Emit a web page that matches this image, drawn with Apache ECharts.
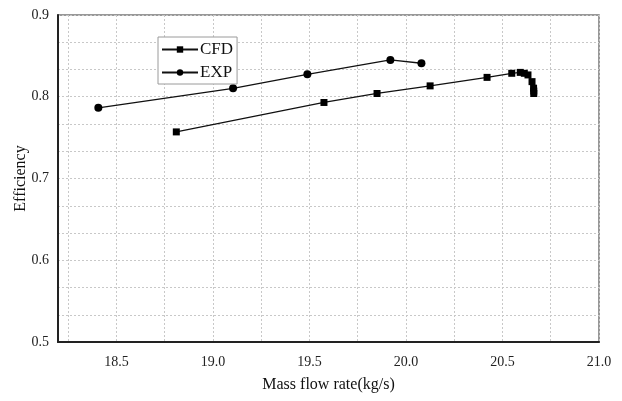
<!DOCTYPE html>
<html>
<head>
<meta charset="utf-8">
<script src="https://cdn.jsdelivr.net/npm/echarts@6/dist/echarts.min.js"></script>
<style>
  html, body { margin: 0; padding: 0; background: #fff; }
  #chart { width: 622px; height: 401px; }
</style>
</head>
<body>
<div id="chart"></div>
<script>
// Mass flow rate (kg/s) and efficiency for the simulated characteristic
const cfdFlow = [18.81, 19.575, 19.85, 20.125, 20.42, 20.548, 20.592, 20.613, 20.632, 20.653, 20.661, 20.662, 20.662];
const cfdEff  = [0.757, 0.793, 0.804, 0.8133, 0.8237, 0.8287, 0.8298, 0.8287, 0.8267, 0.8185, 0.8105, 0.807, 0.804];

// Measured characteristic
const expFlow = [18.406, 19.104, 19.489, 19.919, 20.08];
const expEff  = [0.7865, 0.8103, 0.8274, 0.845, 0.8410];

const seriesNames = ['CFD', 'EXP'];
const xTitle = 'Mass flow rate(kg/s)';
const yTitle = 'Efficiency';
const xLabelValues = [18.5, 19.0, 19.5, 20.0, 20.5, 21.0];
const xGridValues  = [18.25, 18.5, 18.75, 19.0, 19.25, 19.5, 19.75, 20.0, 20.25, 20.5, 20.75, 21.0];

const pairs = (xs, ys) => xs.map((x, i) => [x, ys[i]]);
const FONT = 'Liberation Serif';
const gridDash = { color: '#c8c8c8', type: [2, 2], width: 1 };

const chart = echarts.init(document.getElementById('chart'), null, { renderer: 'canvas' });
chart.setOption({
  animation: false,
  backgroundColor: '#ffffff',
  textStyle: { fontFamily: FONT },
  grid: {
    left: 58, right: 23, top: 15, bottom: 59,
    containLabel: false, outerBoundsMode: 'none',
    show: true, borderColor: '#777', borderWidth: 1.5, backgroundColor: 'transparent'
  },
  legend: {
    data: seriesNames,
    orient: 'vertical',
    left: 158, top: 37,
    backgroundColor: '#fff',
    borderColor: '#9a9a9a', borderWidth: 1,
    padding: [4, 4, 3, 3],
    itemWidth: 36, itemHeight: 8, itemGap: 6,
    textStyle: { fontFamily: FONT, fontSize: 17, color: '#111', padding: [0, 0, 0, -3] }
  },
  xAxis: {
    type: 'value',
    min: 18.197, max: 21.0,
    name: xTitle, nameLocation: 'middle', nameGap: 35, nameMoveOverlap: false,
    nameTextStyle: { fontFamily: FONT, fontSize: 16, color: '#111' },
    axisLine: { show: true, onZero: false, lineStyle: { color: '#222', width: 2 } },
    axisTick: { show: false, customValues: xGridValues },
    axisLabel: {
      fontFamily: FONT, fontSize: 14, color: '#222', margin: 13,
      customValues: xLabelValues,
      formatter: v => v.toFixed(1)
    },
    splitLine: { show: true, lineStyle: gridDash }
  },
  yAxis: {
    type: 'value',
    min: 0.5, max: 0.9, interval: 0.1,
    name: yTitle, nameLocation: 'middle', nameGap: 29, nameMoveOverlap: false,
    nameTextStyle: { fontFamily: FONT, fontSize: 16, color: '#111' },
    axisLine: { show: true, onZero: false, lineStyle: { color: '#222', width: 2 } },
    axisTick: { show: false },
    axisLabel: { fontFamily: FONT, fontSize: 14, color: '#222', margin: 9, formatter: v => v.toFixed(1) },
    splitLine: { show: true, lineStyle: gridDash },
    minorTick: { show: false, splitNumber: 3 },
    minorSplitLine: { show: true, lineStyle: gridDash }
  },
  series: [
    {
      name: seriesNames[0], type: 'line',
      data: pairs(cfdFlow, cfdEff),
      symbol: 'rect', symbolSize: 7,
      itemStyle: { color: '#000' },
      lineStyle: { color: '#111', width: 1.3 },
      z: 3
    },
    {
      name: seriesNames[1], type: 'line',
      data: pairs(expFlow, expEff),
      symbol: 'circle', symbolSize: 8,
      itemStyle: { color: '#000' },
      lineStyle: { color: '#111', width: 1.3 },
      z: 3
    }
  ]
});
</script>
</body>
</html>
